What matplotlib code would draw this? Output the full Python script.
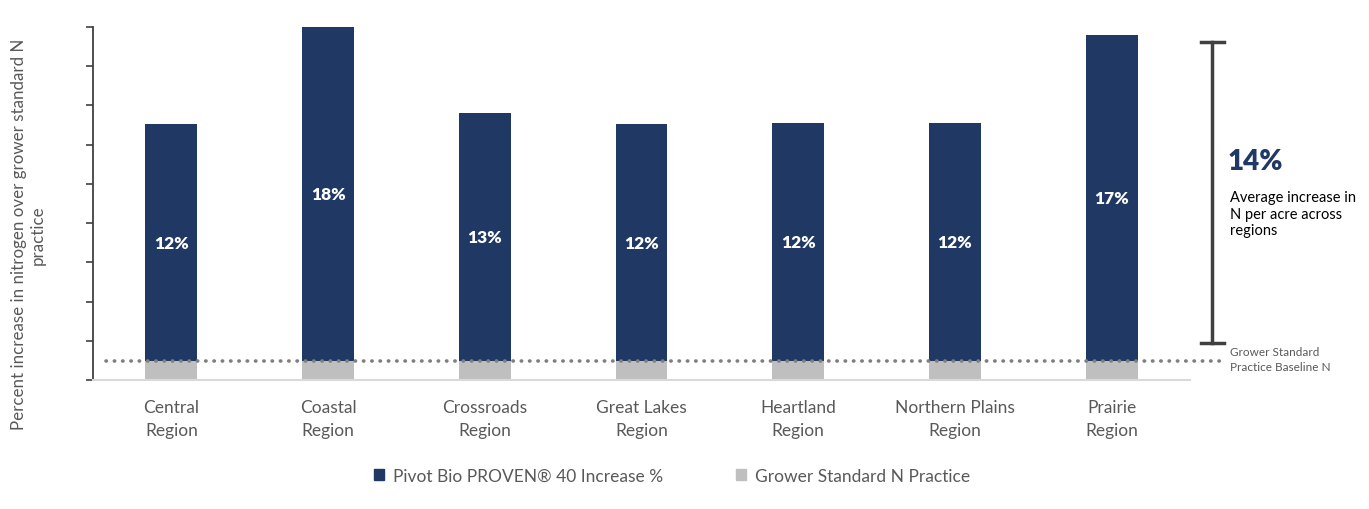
import matplotlib.pyplot as plt
import numpy as np

plt.rcParams['font.family'] = ['Lato', 'DejaVu Sans']

regions = ['Central\nRegion', 'Coastal\nRegion', 'Crossroads\nRegion', 'Great Lakes\nRegion',
           'Heartland\nRegion', 'Northern Plains\nRegion', 'Prairie\nRegion']
increase = [12.4, 17.5, 13.0, 12.4, 12.45, 12.45, 17.1]
baseline = [1.0] * len(regions)
avg_increase = 14

navy = '#203864'
grey = '#bfbfbf'
text_grey = '#595959'

fig = plt.figure(figsize=(13.69, 5.10), dpi=100)
ax = fig.add_axes([93 / 1369, 1 - 381 / 510, (1190 - 93) / 1369, (381 - 28) / 510])

x = np.arange(len(regions))
ax.bar(x, baseline, width=0.33, color=grey, zorder=2)
ax.bar(x, increase, width=0.33, bottom=baseline, color=navy, zorder=2)

for xi, b, v in zip(x, baseline, increase):
    ax.text(xi, b + v / 2, f'{v:.0f}%', ha='center', va='center', color='white',
            fontsize=12.5, fontweight='heavy', zorder=3)

# baseline dotted line runs past the plot area
ax.plot([-0.42, 6.71], [baseline[0], baseline[0]], linestyle=(0, (0.1, 2.2)), lw=2.6,
        color='#7f7f7f', dash_capstyle='round', clip_on=False, zorder=4)

top = baseline[1] + increase[1]
ax.set_xlim(-0.5, 6.5)
ax.set_ylim(0, top)
ax.set_yticks(np.linspace(0, top, 10))
ax.set_yticklabels([])
ax.tick_params(axis='y', direction='out', length=5, width=1.2, color='#404040')
ax.set_xticks(x)
ax.set_xticklabels(regions, fontsize=12.5, color=text_grey, linespacing=1.5)
ax.tick_params(axis='x', length=0, pad=14)
for s in ['top', 'right']:
    ax.spines[s].set_visible(False)
ax.spines['left'].set_color('#404040')
ax.spines['left'].set_linewidth(1.3)
ax.spines['bottom'].set_color('#d9d9d9')
ax.spines['bottom'].set_linewidth(1.5)

ax.set_ylabel('Percent increase in nitrogen over grower standard N\npractice',
              fontsize=12.2, color=text_grey, linespacing=1.25)
ax.yaxis.set_label_coords(-0.043, 0.414)

# average bracket on the right
fig.add_artist(plt.Line2D([1212 / 1369] * 2, [1 - 43 / 510, 1 - 344 / 510], color='#404040', lw=2.5))
for yy in (43, 344):
    fig.add_artist(plt.Line2D([1201 / 1369, 1224 / 1369], [1 - yy / 510] * 2, color='#404040', lw=2.5))
fig.text(1228 / 1369, 1 - 162 / 510, f'{avg_increase}%', fontsize=20, fontweight='heavy',
         color=navy, va='center')
fig.text(1230 / 1369, 1 - 191 / 510, 'Average increase in\nN per acre across\nregions',
         fontsize=10.5, color='black', va='top', linespacing=1.25)
fig.text(1230 / 1369, 1 - 360 / 510, 'Grower Standard\nPractice Baseline N',
         fontsize=8.5, color=text_grey, va='center', linespacing=1.35)

handles = [plt.Rectangle((0, 0), 1, 1, color=navy), plt.Rectangle((0, 0), 1, 1, color=grey)]
fig.legend(handles, ['Pivot Bio PROVEN® 40 Increase %', 'Grower Standard N Practice'],
           loc='center', bbox_to_anchor=(672 / 1369, 1 - 477 / 510), ncol=2, frameon=False,
           fontsize=12.5, labelcolor=text_grey, handlelength=0.6, handleheight=0.6,
           handletextpad=0.5, columnspacing=4.2)

fig.savefig('out.png', dpi=100)
